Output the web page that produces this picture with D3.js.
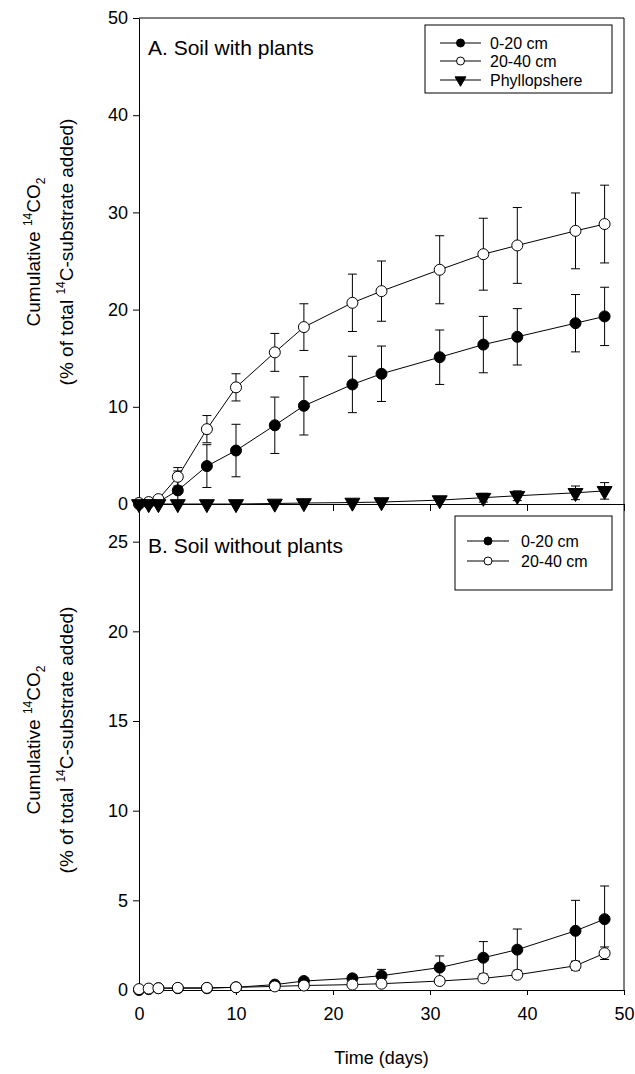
<!DOCTYPE html>
<html>
<head>
<meta charset="utf-8">
<script src="https://cdn.jsdelivr.net/npm/d3@7"></script>
<style>
  body { margin: 0; background: #fff; }
  svg { font-family: "Liberation Sans", Arial, sans-serif; }
</style>
</head>
<body>
<svg id="chart" width="635" height="1074"></svg>
<script>
// sampling days (shared by all series)
const days = [0, 1, 2, 4, 7, 10, 14, 17, 22, 25, 31, 35.5, 39, 45, 48];

// panel A: soil with plants
const fillA = [0, 0.1, 0.2, 1.4, 3.9, 5.5, 8.1, 10.1, 12.3, 13.4, 15.1, 16.4, 17.2, 18.6, 19.3];
const fillAErr = [0, 0, 0, 2.0, 2.2, 2.7, 2.9, 3.0, 2.9, 2.85, 2.8, 2.9, 2.9, 2.95, 3.0];
const openA = [0.1, 0.2, 0.5, 2.8, 7.7, 12.0, 15.6, 18.2, 20.7, 21.9, 24.1, 25.7, 26.6, 28.1, 28.8];
const openAErr = [0, 0, 0, 0.95, 1.4, 1.4, 1.95, 2.4, 2.95, 3.1, 3.5, 3.7, 3.9, 3.9, 4.0];
const phylloA = [0, 0, 0, 0, 0, 0, 0.05, 0.1, 0.15, 0.2, 0.4, 0.65, 0.85, 1.15, 1.35];
const phylloAErr = [0, 0, 0, 0, 0, 0, 0, 0, 0.05, 0.1, 0.15, 0.45, 0.5, 0.7, 0.85];

// panel B: soil without plants
const fillB = [0, 0.05, 0.1, 0.1, 0.1, 0.15, 0.3, 0.5, 0.65, 0.8, 1.25, 1.8, 2.25, 3.3, 3.95];
const fillBErr = [0, 0, 0, 0, 0, 0, 0.05, 0.1, 0.2, 0.35, 0.65, 0.9, 1.15, 1.7, 1.85];
const openB = [0.05, 0.08, 0.1, 0.12, 0.12, 0.15, 0.2, 0.25, 0.3, 0.35, 0.5, 0.65, 0.85, 1.35, 2.05];
const openBErr = [0, 0, 0, 0, 0, 0, 0, 0, 0, 0, 0.05, 0.1, 0.15, 0.25, 0.35];

const xTicks = [0, 10, 20, 30, 40, 50];
const yTicksA = [0, 10, 20, 30, 40, 50];
const yTicksB = [0, 5, 10, 15, 20, 25];

const svg = d3.select("#chart");
const left = 139, right = 624;
const x = d3.scaleLinear().domain([0, 50]).range([left, right]);
const yA = d3.scaleLinear().domain([0, 50]).range([504, 18]);
const yB = d3.scaleLinear().domain([0, 27.1]).range([990, 504]);

const markers = {
  fill: { shape: "circle", fill: "#000" },
  open: { shape: "circle", fill: "#fff" },
  tri: { shape: "tri", fill: "#000" }
};

function marker(g, kind, cx, cy, r) {
  const m = markers[kind];
  if (m.shape === "circle") {
    g.append("circle").attr("cx", cx).attr("cy", cy).attr("r", r)
      .attr("fill", m.fill).attr("stroke", "#000").attr("stroke-width", 1);
  } else {
    const sym = d3.symbol().type(d3.symbolTriangle).size(r * r * 3.2);
    g.append("path").attr("d", sym())
      .attr("transform", "translate(" + cx + "," + cy + ") rotate(180)")
      .attr("fill", m.fill).attr("stroke", "#000").attr("stroke-width", 1);
  }
}

function drawSeries(g, y, vals, errs, kind) {
  const cap = 4.5;
  // error bars
  vals.forEach((v, i) => {
    const e = errs[i];
    if (!e) return;
    const cx = x(days[i]);
    const lo = Math.max(0, v - e);
    g.append("line").attr("x1", cx).attr("x2", cx)
      .attr("y1", y(v + e)).attr("y2", y(lo)).attr("stroke", "#000");
    g.append("line").attr("x1", cx - cap).attr("x2", cx + cap)
      .attr("y1", y(v + e)).attr("y2", y(v + e)).attr("stroke", "#000");
    if (v - e >= 0) {
      g.append("line").attr("x1", cx - cap).attr("x2", cx + cap)
        .attr("y1", y(v - e)).attr("y2", y(v - e)).attr("stroke", "#000");
    }
  });
  // connecting line
  const line = d3.line().x((d, i) => x(days[i])).y(d => y(d));
  g.append("path").datum(vals).attr("d", line)
    .attr("fill", "none").attr("stroke", "#000").attr("stroke-width", 1);
  vals.forEach((v, i) => marker(g, kind, x(days[i]), y(v), 5.5));
}

function drawAxes(y, ticks, top, bottom) {
  const ga = svg.append("g").attr("transform", "translate(" + left + ",0)")
    .call(d3.axisLeft(y).tickValues(ticks).tickSize(6).tickSizeOuter(0).tickPadding(5));
  ga.selectAll("text").attr("font-size", 18).attr("fill", "#000").attr("font-family", null);
  ga.selectAll("line, path").attr("stroke", "#000");
  // right border
  svg.append("line").attr("x1", right).attr("x2", right)
    .attr("y1", top).attr("y2", bottom).attr("stroke", "#000");
}

function legend(entries, bx, by, bw, bh, lx1, lx2, tx, rows) {
  const g = svg.append("g");
  g.append("rect").attr("x", bx).attr("y", by).attr("width", bw).attr("height", bh)
    .attr("fill", "#fff").attr("stroke", "#000");
  entries.forEach((en, i) => {
    const ry = rows[i];
    g.append("line").attr("x1", lx1).attr("x2", lx2).attr("y1", ry).attr("y2", ry).attr("stroke", "#000");
    marker(g, en.kind, (lx1 + lx2) / 2, ry, 4);
    g.append("text").attr("x", tx).attr("y", ry + 6).attr("font-size", 16).text(en.label);
  });
}

function yTitle(cy) {
  const g = svg.append("g").attr("font-size", 19);
  const t1 = g.append("text").attr("text-anchor", "middle")
    .attr("transform", "translate(40," + cy + ") rotate(-90)");
  t1.append("tspan").text("Cumulative ");
  t1.append("tspan").attr("font-size", 12).attr("dy", -8).text("14");
  t1.append("tspan").attr("dy", 8).text("CO");
  t1.append("tspan").attr("font-size", 12).attr("dy", 5).text("2");
  const t2 = g.append("text").attr("text-anchor", "middle")
    .attr("transform", "translate(73," + cy + ") rotate(-90)");
  t2.append("tspan").text("(% of total ");
  t2.append("tspan").attr("font-size", 12).attr("dy", -8).text("14");
  t2.append("tspan").attr("dy", 8).text("C-substrate added)");
}

// ---- panel A ----
drawAxes(yA, yTicksA, 18, 504);
svg.append("line").attr("x1", left).attr("x2", right).attr("y1", 18).attr("y2", 18).attr("stroke", "#000");
const gxA = svg.append("g").attr("transform", "translate(0,504)")
  .call(d3.axisBottom(x).tickValues(xTicks).tickSize(7).tickSizeOuter(0).tickFormat(""));
gxA.selectAll("line, path").attr("stroke", "#000");

svg.append("text").attr("x", 148).attr("y", 55).attr("font-size", 21).text("A. Soil with plants");
legend([
  { kind: "fill", label: "0-20 cm" },
  { kind: "open", label: "20-40 cm" },
  { kind: "tri", label: "Phyllopshere" }
], 425, 25, 187, 68, 440, 481, 490, [43, 61, 80]);

const pA = svg.append("g");
drawSeries(pA, yA, fillA, fillAErr, "fill");
drawSeries(pA, yA, openA, openAErr, "open");
drawSeries(pA, yA, phylloA, phylloAErr, "tri");

// ---- panel B ----
drawAxes(yB, yTicksB, 504, 990);
const gxB = svg.append("g").attr("transform", "translate(0,990)")
  .call(d3.axisBottom(x).tickValues(xTicks).tickSize(5).tickSizeOuter(0).tickPadding(12));
gxB.selectAll("text").attr("font-size", 18).attr("fill", "#000").attr("font-family", null);
gxB.selectAll("line, path").attr("stroke", "#000");

svg.append("text").attr("x", 148).attr("y", 553).attr("font-size", 21).text("B. Soil without plants");
legend([
  { kind: "fill", label: "0-20 cm" },
  { kind: "open", label: "20-40 cm" }
], 455, 516, 157, 74, 467, 509, 521, [541, 561]);

const pB = svg.append("g");
drawSeries(pB, yB, fillB, fillBErr, "fill");
drawSeries(pB, yB, openB, openBErr, "open");

// axis titles
yTitle(252);
yTitle(740);
svg.append("text").attr("x", (left + right) / 2).attr("y", 1064)
  .attr("text-anchor", "middle").attr("font-size", 18).text("Time (days)");
</script>
</body>
</html>
